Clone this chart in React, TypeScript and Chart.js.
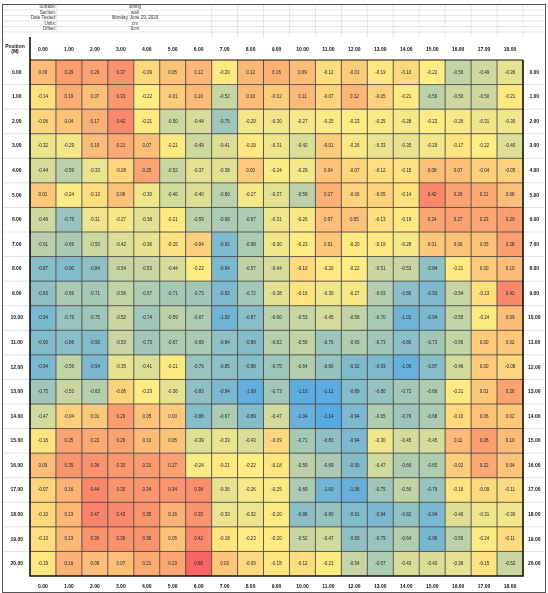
import React, { useEffect, useRef } from "react";
import { Chart, registerables } from "chart.js";

Chart.register(...registerables);

const colLabels = ["0.00", "1.00", "2.00", "3.00", "4.00", "5.00", "6.00", "7.00", "8.00", "9.00", "10.00", "11.00", "12.00", "13.00", "14.00", "15.00", "16.00", "17.00", "18.00"];
const rowLabels = ["0.00", "1.00", "2.00", "3.00", "4.00", "5.00", "6.00", "7.00", "8.00", "9.00", "10.00", "11.00", "12.00", "13.00", "14.00", "15.00", "16.00", "17.00", "18.00", "19.00", "20.00"];

const infoLabels = ["Surface:", "Section:", "Date Tested:", "Units:", "Offset:"];
const infoValues = ["dining", "wall", "Monday, June 29, 2020", "cm", "0cm"];
const cornerLabel = ["Position", "(M)"];

const row0 = [0.09, 0.29, 0.26, 0.37, -0.09, 0.05, 0.12, -0.2, 0.12, 0.16, 0.09, -0.12, -0.01, -0.19, -0.1, -0.22, -0.56, -0.49, -0.36];
const row1 = [-0.14, 0.19, 0.07, 0.33, -0.22, -0.01, 0.1, -0.52, 0.1, -0.02, 0.11, -0.07, 0.12, -0.05, -0.21, -0.59, -0.5, -0.5, -0.21];
const row2 = [-0.06, 0.04, 0.17, 0.42, -0.21, -0.5, -0.44, -0.75, -0.29, -0.3, -0.27, -0.25, -0.23, -0.25, -0.28, -0.23, -0.26, -0.31, -0.3];
const row3 = [-0.32, -0.29, 0.1, 0.21, 0.07, -0.21, -0.49, -0.41, -0.19, -0.31, -0.42, -0.01, -0.26, -0.33, -0.35, -0.29, -0.17, -0.22, -0.4];
const row4 = [-0.44, -0.59, -0.33, -0.08, 0.25, -0.52, -0.37, -0.38, 0.0, -0.24, -0.29, 0.04, -0.07, -0.12, -0.15, 0.08, 0.07, -0.04, -0.05];
const row5 = [0.01, -0.24, -0.13, 0.06, -0.3, -0.46, -0.4, -0.6, -0.27, -0.37, -0.59, 0.17, -0.06, -0.05, -0.14, 0.42, 0.26, 0.21, 0.08];
const row6 = [-0.49, -0.79, -0.31, -0.27, -0.38, -0.21, -0.59, -0.68, -0.67, -0.31, -0.26, 0.07, 0.05, -0.13, -0.19, 0.24, 0.27, 0.23, 0.29];
const row7 = [-0.61, -0.69, -0.5, -0.42, -0.36, -0.15, -0.04, -0.92, -0.68, -0.3, -0.23, 0.01, -0.2, -0.19, -0.28, 0.01, 0.06, 0.05, 0.28];
const row8 = [-0.87, -0.9, -0.84, -0.54, -0.53, -0.44, -0.22, -0.94, -0.57, -0.44, -0.1, -0.2, -0.22, -0.51, -0.53, -0.84, -0.21, 0.0, 0.1];
const row9 = [-0.83, -0.69, -0.71, -0.56, -0.67, -0.71, -0.73, -0.93, -0.72, -0.38, -0.16, -0.3, -0.27, -0.63, -0.86, -0.93, -0.54, -0.13, 0.42];
const row10 = [-0.94, -0.79, -0.75, -0.52, -0.74, -0.59, -0.67, -1.0, -0.87, -0.6, -0.53, -0.45, -0.56, -0.7, -1.01, -0.94, -0.55, -0.24, 0.09];
const row11 = [-0.9, -0.86, -0.9, -0.53, -0.73, -0.67, -0.69, -0.84, -0.89, -0.62, -0.56, -0.76, -0.65, -0.73, -0.86, -0.73, -0.56, 0.0, 0.02];
const row12 = [-0.94, -0.56, -0.94, -0.35, -0.41, -0.21, -0.79, -0.85, -0.88, -0.75, -0.64, -0.8, -0.92, -0.93, -1.06, -0.87, -0.46, 0.0, -0.08];
const row13 = [-0.75, -0.53, -0.63, -0.06, -0.23, -0.36, -0.83, -0.94, -1.09, -0.73, -1.1, -1.12, -0.89, -0.8, -0.72, -0.66, -0.21, 0.01, 0.26];
const row14 = [-0.47, -0.04, 0.01, 0.29, 0.05, 0.0, -0.88, -0.67, -0.89, -0.47, -1.04, -1.14, -0.94, -0.65, -0.76, -0.68, -0.1, 0.06, 0.02];
const row15 = [-0.16, 0.25, 0.22, 0.26, 0.1, 0.05, -0.39, -0.33, -0.43, -0.09, -0.71, -0.83, -0.94, -0.3, -0.45, -0.45, 0.11, 0.28, 0.1];
const row16 = [0.09, 0.35, 0.36, 0.33, 0.31, 0.27, -0.24, -0.21, -0.22, -0.18, -0.59, -0.69, -0.9, -0.47, -0.66, -0.65, -0.02, 0.22, 0.04];
const row17 = [-0.07, 0.16, 0.44, 0.35, 0.34, 0.34, 0.38, -0.36, -0.26, -0.25, -0.69, -1.0, -1.06, -0.75, -0.56, -0.79, -0.16, -0.09, -0.11];
const row18 = [-0.1, 0.13, 0.47, 0.43, 0.35, 0.16, 0.35, -0.33, -0.32, -0.2, -0.86, -0.8, -0.91, -0.94, -0.82, -0.94, -0.4, -0.31, -0.3];
const row19 = [-0.13, 0.13, 0.36, 0.36, 0.36, 0.05, 0.42, -0.18, -0.23, -0.2, -0.52, -0.47, -0.83, -0.79, -0.64, -0.96, -0.59, -0.24, -0.11];
const row20 = [-0.19, 0.16, 0.09, 0.07, 0.21, 0.23, 0.66, 0.03, -0.09, -0.18, -0.12, -0.21, -0.54, -0.67, -0.43, -0.43, -0.36, -0.15, -0.52];

const gridValues = [row0, row1, row2, row3, row4, row5, row6, row7, row8, row9, row10, row11, row12, row13, row14, row15, row16, row17, row18, row19, row20];

// three-colour scale (lowest -> midpoint -> highest)
const LOW = [88, 170, 228];
const MID = [255, 236, 130];
const HIGH = [248, 100, 100];
const SCALE_MID = -0.22;

const sortedVals = gridValues.flat().slice().sort((a, b) => a - b);
const vMin = sortedVals[0];
const vMax = sortedVals[sortedVals.length - 1];

function mix(a: number[], b: number[], t: number) {
  const k = Math.max(0, Math.min(1, t));
  const c = a.map((av, i) => Math.round(av + (b[i] - av) * k));
  return `rgb(${c[0]},${c[1]},${c[2]})`;
}
function colorFor(v: number) {
  if (v <= SCALE_MID) return mix(LOW, MID, (v - vMin) / (SCALE_MID - vMin));
  return mix(MID, HIGH, (v - SCALE_MID) / (vMax - SCALE_MID));
}

const FONT = "'Liberation Sans', Arial, sans-serif";

const sheetPlugin = {
  id: "sheetDecor",
  beforeDraw(chart: any) {
    const { ctx, width, height } = chart;
    ctx.save();
    ctx.fillStyle = "#ffffff";
    ctx.fillRect(0, 0, width, height);
    ctx.restore();
  },
  afterDatasetsDraw(chart: any) {
    const { ctx, width, height, chartArea: a } = chart;
    const xs = chart.scales.x;
    const ys = chart.scales.y;
    const nC = colLabels.length;
    const nR = rowLabels.length;
    const colEdges: number[] = [];
    for (let c = 0; c <= nC; c++) {
      if (c === 0) colEdges.push(a.left);
      else if (c === nC) colEdges.push(a.right);
      else colEdges.push((xs.getPixelForValue(c - 1) + xs.getPixelForValue(c)) / 2);
    }
    const rowEdges: number[] = [];
    for (let r = 0; r <= nR; r++) rowEdges.push(ys.getPixelForValue(r - 0.5));

    ctx.save();
    // light spreadsheet gridlines in info area
    const infoTop = 4.5;
    const infoRowH = 5.5;
    ctx.strokeStyle = "#d4d4d4";
    ctx.lineWidth = 0.6;
    for (let i = 1; i <= infoLabels.length; i++) {
      const y = infoTop + i * infoRowH;
      ctx.beginPath();
      ctx.moveTo(2, y);
      ctx.lineTo(width - 2, y);
      ctx.stroke();
    }
    for (let c = 7; c <= nC; c++) {
      ctx.beginPath();
      ctx.moveTo(colEdges[c], infoTop);
      ctx.lineTo(colEdges[c], infoTop + infoLabels.length * infoRowH + 5);
      ctx.stroke();
    }
    ctx.beginPath();
    ctx.moveTo(57, infoTop);
    ctx.lineTo(57, infoTop + infoLabels.length * infoRowH);
    ctx.stroke();
    // light lines in side label columns
    for (let r = 1; r < nR; r++) {
      const y = rowEdges[r];
      ctx.beginPath();
      ctx.moveTo(3, y);
      ctx.lineTo(a.left, y);
      ctx.moveTo(a.right, y);
      ctx.lineTo(width - 2, y);
      ctx.stroke();
    }

    // info text
    ctx.fillStyle = "#333";
    ctx.font = `4.5px ${FONT}`;
    ctx.textBaseline = "middle";
    infoLabels.forEach((lab, i) => {
      const y = infoTop + (i + 0.5) * infoRowH;
      ctx.textAlign = "right";
      ctx.fillText(lab, 56, y);
      ctx.textAlign = "center";
      ctx.fillText(infoValues[i], 135, y);
    });

    // corner label
    ctx.fillStyle = "#111";
    ctx.font = `bold 5px ${FONT}`;
    ctx.textAlign = "center";
    ctx.fillText(cornerLabel[0], a.left / 2, 46.5);
    ctx.fillText(cornerLabel[1], a.left / 2, 52);

    // cell borders
    ctx.strokeStyle = "#4a4a4a";
    ctx.lineWidth = 0.9;
    for (let c = 1; c < nC; c++) {
      ctx.beginPath();
      ctx.moveTo(colEdges[c], a.top);
      ctx.lineTo(colEdges[c], a.bottom);
      ctx.stroke();
    }
    for (let r = 1; r < nR; r++) {
      ctx.beginPath();
      ctx.moveTo(a.left, rowEdges[r]);
      ctx.lineTo(a.right, rowEdges[r]);
      ctx.stroke();
    }

    // cell values
    ctx.fillStyle = "#222";
    ctx.font = `4.5px ${FONT}`;
    ctx.textAlign = "center";
    ctx.textBaseline = "middle";
    gridValues.forEach((vals, r) => {
      const meta = chart.getDatasetMeta(r);
      vals.forEach((v, c) => {
        const el = meta.data[c];
        if (!el) return;
        const p = el.getCenterPoint();
        ctx.fillText(v.toFixed(2), p.x, p.y);
      });
    });

    // thick outline
    ctx.strokeStyle = "#111";
    ctx.lineWidth = 1.6;
    ctx.beginPath();
    ctx.moveTo(a.left, 37);
    ctx.lineTo(a.left, a.bottom);
    ctx.lineTo(a.right, a.bottom);
    ctx.lineTo(a.right, a.top);
    ctx.stroke();
    ctx.lineWidth = 1.1;
    ctx.beginPath();
    ctx.moveTo(a.left, a.top);
    ctx.lineTo(a.right, a.top);
    ctx.stroke();

    // outer frame
    ctx.strokeStyle = "#555";
    ctx.lineWidth = 1;
    ctx.strokeRect(2.5, 4.5, width - 5, height - 5);
    ctx.restore();
  },
};

export default function App() {
  const canvasRef = useRef<HTMLCanvasElement | null>(null);

  useEffect(() => {
    if (!canvasRef.current) return;
    const datasets = gridValues.map((vals, r) => ({
      label: rowLabels[r],
      data: vals.map(() => [r - 0.5, r + 0.5]),
      backgroundColor: vals.map(colorFor),
      borderWidth: 0,
      borderSkipped: false,
      grouped: false,
      categoryPercentage: 1,
      barPercentage: 1,
    }));

    const tickFont = { family: FONT, size: 5, weight: "bold" as const };

    const chart = new Chart(canvasRef.current, {
      type: "bar",
      data: { labels: colLabels, datasets: datasets as any },
      options: {
        animation: false,
        responsive: false,
        maintainAspectRatio: false,
        devicePixelRatio: 1,
        layout: { padding: { top: 37, left: 0, right: 0, bottom: 0 } },
        plugins: { legend: { display: false }, tooltip: { enabled: false }, title: { display: false } },
        scales: {
          x: {
            type: "category",
            position: "bottom",
            offset: true,
            grid: { display: false, drawTicks: false },
            border: { display: false },
            ticks: { font: tickFont, color: "#111", padding: 8, maxRotation: 0, autoSkip: false },
            afterFit: (s: any) => { s.height = 17; },
          },
          x2: {
            type: "category",
            position: "top",
            labels: colLabels,
            offset: true,
            grid: { display: false, drawTicks: false },
            border: { display: false },
            ticks: { font: tickFont, color: "#111", padding: 7, maxRotation: 0, autoSkip: false },
            afterFit: (s: any) => { s.height = 23; },
          },
          y: {
            type: "linear",
            position: "left",
            reverse: true,
            min: -0.5,
            max: 20.5,
            grid: { display: false, drawTicks: false },
            border: { display: false },
            afterBuildTicks: (s: any) => { s.ticks = rowLabels.map((_, i) => ({ value: i })); },
            ticks: {
              font: tickFont,
              color: "#111",
              padding: 7,
              crossAlign: "center",
              autoSkip: false,
              callback: (v: any) => rowLabels[Math.round(Number(v))] ?? "",
            },
            afterFit: (s: any) => { s.width = 30; },
          },
          y2: {
            type: "linear",
            position: "right",
            reverse: true,
            min: -0.5,
            max: 20.5,
            grid: { display: false, drawTicks: false },
            border: { display: false },
            afterBuildTicks: (s: any) => { s.ticks = rowLabels.map((_, i) => ({ value: i })); },
            ticks: {
              font: tickFont,
              color: "#111",
              padding: 5,
              crossAlign: "center",
              autoSkip: false,
              callback: (v: any) => rowLabels[Math.round(Number(v))] ?? "",
            },
            afterFit: (s: any) => { s.width = 25; },
          },
        },
      } as any,
      plugins: [sheetPlugin],
    });
    return () => chart.destroy();
  }, []);

  return (
    <div style={{ position: "absolute", left: 0, top: 0, width: 548, height: 593, background: "#fff" }}>
      <canvas ref={canvasRef} width={548} height={593} style={{ display: "block", width: 548, height: 593 }} />
    </div>
  );
}
